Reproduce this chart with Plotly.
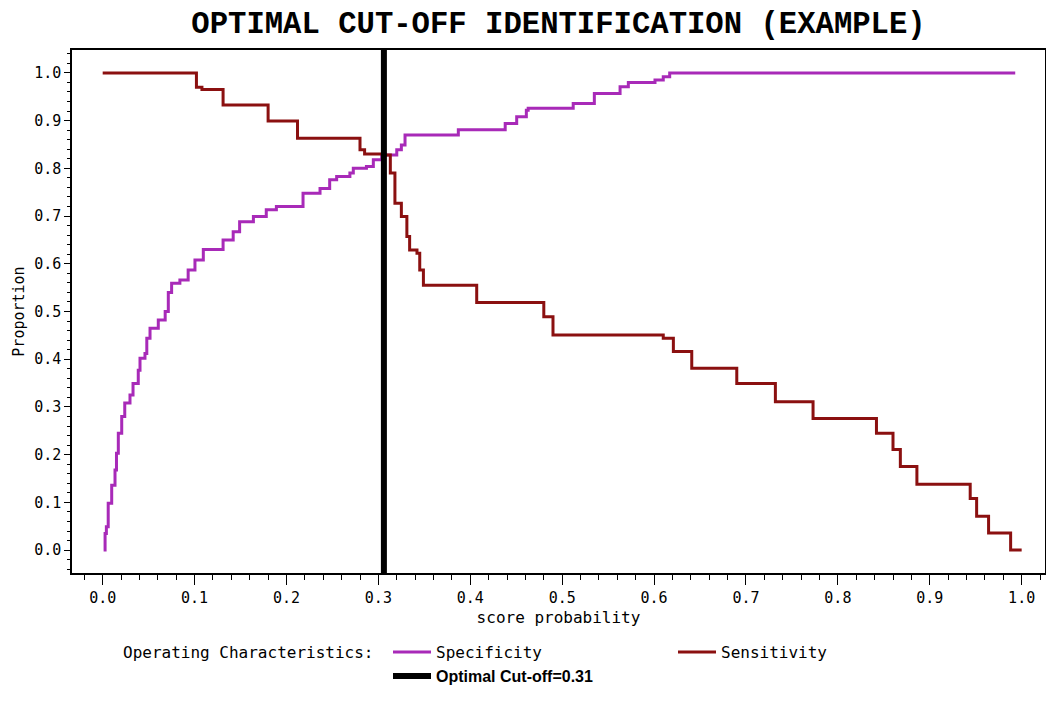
import plotly.graph_objects as go

# ---- data ----
sens_x = [0.0, 0.102, 0.108, 0.131, 0.180, 0.212, 0.280, 0.285, 0.307, 0.313, 0.318,
          0.325, 0.331, 0.334, 0.342, 0.345, 0.349, 0.407, 0.480, 0.490, 0.610,
          0.621, 0.641, 0.690, 0.732, 0.773, 0.842, 0.860, 0.868, 0.886, 0.944,
          0.951, 0.964, 0.988, 1.0]
sens_y = [1.0, 0.970, 0.965, 0.933, 0.899, 0.863, 0.839, 0.830, 0.828, 0.790, 0.727,
          0.699, 0.657, 0.629, 0.622, 0.587, 0.555, 0.519, 0.489, 0.451, 0.444,
          0.416, 0.381, 0.349, 0.311, 0.276, 0.245, 0.211, 0.175, 0.138, 0.108,
          0.071, 0.036, 0.0, 0.0]

spec_x = [0.001, 0.0026, 0.004, 0.006, 0.0098, 0.0134, 0.015, 0.017, 0.0207, 0.024,
          0.0297, 0.033, 0.0387, 0.0406, 0.046, 0.048, 0.0515, 0.0605, 0.068, 0.0714,
          0.075, 0.084, 0.093, 0.1004, 0.1095, 0.131, 0.142, 0.149, 0.164, 0.178,
          0.189, 0.218, 0.2365, 0.247, 0.2546, 0.269, 0.2727, 0.287, 0.2945, 0.3036,
          0.320, 0.325, 0.329, 0.387, 0.438, 0.4505, 0.461, 0.463, 0.512, 0.535,
          0.563, 0.572, 0.601, 0.610, 0.617, 0.993]
spec_y = [0.0, 0.035, 0.049, 0.098, 0.136, 0.168, 0.203, 0.245, 0.280, 0.308,
          0.325, 0.349, 0.377, 0.402, 0.412, 0.444, 0.465, 0.482, 0.500, 0.540,
          0.559, 0.566, 0.587, 0.608, 0.630, 0.650, 0.667, 0.688, 0.699, 0.713,
          0.720, 0.748, 0.758, 0.776, 0.783, 0.790, 0.800, 0.804, 0.818, 0.828,
          0.839, 0.849, 0.870, 0.881, 0.894, 0.908, 0.922, 0.926, 0.936, 0.957,
          0.971, 0.980, 0.985, 0.992, 1.0, 1.0]

cutoff = 0.306
y_range = [-0.048, 1.048]
x_range = [-0.0334, 1.0254]

x_ticks = [0.0, 0.1, 0.2, 0.3, 0.4, 0.5, 0.6, 0.7, 0.8, 0.9, 1.0]
y_ticks = [0.0, 0.1, 0.2, 0.3, 0.4, 0.5, 0.6, 0.7, 0.8, 0.9, 1.0]

SPEC_COLOR = '#A82AB8'
SENS_COLOR = '#8B1010'
MONO = 'DejaVu Sans Mono'

fig = go.Figure()
fig.add_trace(go.Scatter(x=spec_x, y=spec_y, mode='lines', line_shape='hv',
                         line=dict(color=SPEC_COLOR, width=3), name='Specificity',
                         legend='legend'))
fig.add_trace(go.Scatter(x=sens_x, y=sens_y, mode='lines', line_shape='hv',
                         line=dict(color=SENS_COLOR, width=3), name='Sensitivity',
                         legend='legend2'))
fig.add_trace(go.Scatter(x=[cutoff, cutoff], y=y_range, mode='lines',
                         line=dict(color='black', width=6),
                         name='<span style="font-family:Liberation Sans;font-weight:bold">Optimal Cut-off=0.31</span>',
                         legend='legend3'))

leg_common = dict(orientation='h', xanchor='left', yanchor='middle',
                  font=dict(family=MONO, size=16, color='black'),
                  itemwidth=38, bgcolor='rgba(0,0,0,0)', borderwidth=0)

fig.update_layout(
    width=1046, height=719,
    margin=dict(l=72, r=1, t=50, b=146, autoexpand=False),
    paper_bgcolor='white', plot_bgcolor='white',
    title=dict(text='<b>OPTIMAL CUT-OFF IDENTIFICATION (EXAMPLE)</b>',
               font=dict(family='Liberation Mono', size=30.6, color='black'),
               x=0.5, xref='paper', xanchor='center',
               y=0.969, yref='container', yanchor='middle'),
    showlegend=True,
    legend=dict(x=(388 - 72) / 973, y=(573 - 652) / 523, **leg_common),
    legend2=dict(x=(673 - 72) / 973, y=(573 - 652) / 523, **leg_common),
    legend3=dict(x=(388 - 72) / 973, y=(573 - 676) / 523, **leg_common),
    annotations=[dict(text='Operating Characteristics:', xref='paper', yref='paper',
                      x=(121 - 72) / 973, y=(573 - 652) / 523, xanchor='left', yanchor='middle',
                      showarrow=False, font=dict(family=MONO, size=16, color='black'))],
    font=dict(family=MONO, size=15, color='black'),
)

fig.update_xaxes(range=x_range, tickvals=x_ticks, tickformat='.1f', automargin=False,
                 showgrid=False, zeroline=False,
                 showline=True, linecolor='black', linewidth=1.5, mirror=True,
                 ticks='outside', ticklen=10, tickwidth=1.2, tickcolor='black',
                 tickfont=dict(family=MONO, size=15, color='black'),
                 minor=dict(ticks='outside', ticklen=5, dtick=0.02, tickcolor='black', showgrid=False),
                 title=dict(text='score probability', font=dict(family=MONO, size=16, color='black'),
                            standoff=6))
fig.update_yaxes(range=y_range, tickvals=y_ticks, tickformat='.1f', automargin=False,
                 showgrid=False, zeroline=False,
                 showline=True, linecolor='black', linewidth=1.5, mirror=True,
                 ticks='outside', ticklen=6, tickwidth=1.2, tickcolor='black',
                 tickfont=dict(family=MONO, size=15, color='black'),
                 minor=dict(ticks='outside', ticklen=3, dtick=0.02, tickcolor='black', showgrid=False),
                 title=dict(text='Proportion', font=dict(family=MONO, size=15, color='black'),
                            standoff=6))

fig.write_html('out.html', config={'displayModeBar': False},
               post_script="document.body.style.margin='0';document.body.style.overflow='hidden';")
